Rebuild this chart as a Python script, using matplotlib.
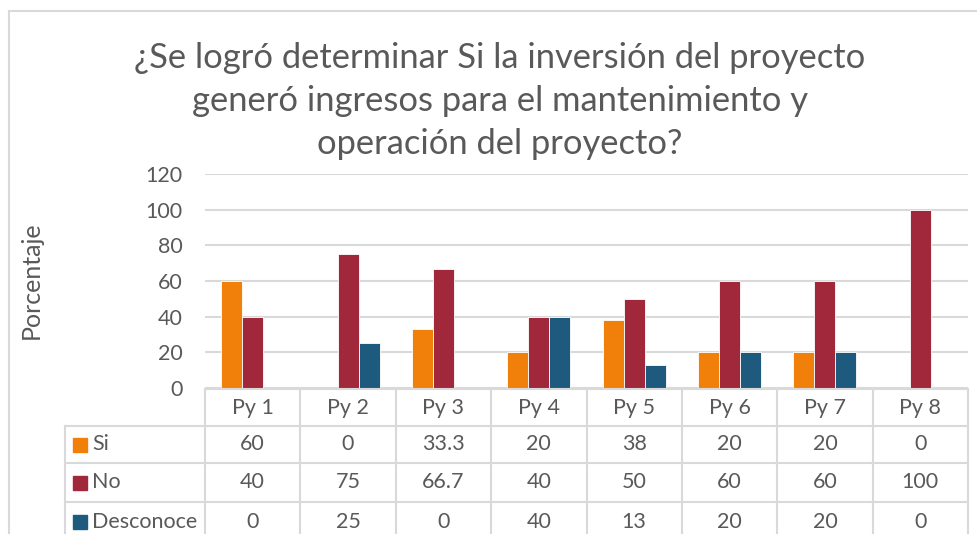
import matplotlib.pyplot as plt
from matplotlib.patches import Rectangle
import numpy as np

plt.rcParams['font.family'] = ['Lato', 'DejaVu Sans']

proyectos = ["Py 1", "Py 2", "Py 3", "Py 4", "Py 5", "Py 6", "Py 7", "Py 8"]
si = [60, 0, 33.3, 20, 38, 20, 20, 0]
no = [40, 75, 66.7, 40, 50, 60, 60, 100]
desconoce = [0, 25, 0, 40, 13, 20, 20, 0]
series = ["Si", "No", "Desconoce"]
colores = ["#F0800A", "#A0283A", "#1E5A7E"]

gris = "#595959"
linea = "#D9D9D9"
fs = 15.5

W, H = 977, 534
fig = plt.figure(figsize=(W / 100, H / 100), dpi=100)

# chart frame (cut on the right and bottom)
fig.add_artist(plt.Line2D([9 / W, 9 / W], [0, 1 - 11 / H], color=linea, lw=1.5))
fig.add_artist(plt.Line2D([9 / W, 1], [1 - 11 / H, 1 - 11 / H], color=linea, lw=1.5))

x0, x1 = 205, 968
y0, y1 = 388, 174
ax = fig.add_axes([x0 / W, 1 - y0 / H, (x1 - x0) / W, (y0 - y1) / H])

x = np.arange(len(proyectos))
bw = 0.22
for k, (vals, c) in enumerate(zip([si, no, desconoce], colores)):
    ax.bar(x + (k - 1) * bw, vals, bw, color=c, edgecolor="white", linewidth=0.6, zorder=3)

ax.set_xlim(-0.5, len(proyectos) - 0.5)
ax.set_ylim(0, 120)
ax.set_yticks(range(0, 121, 20))
ax.set_xticks([])
ax.grid(axis="y", color=linea, lw=1.5, zorder=0)
for s in ax.spines.values():
    s.set_visible(False)
ax.tick_params(axis="y", length=0, labelsize=fs, labelcolor=gris, pad=16)

fig.text(31 / W, 1 - 280 / H, "Porcentaje", rotation=90, ha="center", va="center",
         fontsize=18, color=gris)

fig.text(500 / W, 1 - 101 / H,
         "¿Se logró determinar Si la inversión del proyecto\ngeneró ingresos para el mantenimiento y\noperación del proyecto?",
         ha="center", va="center", fontsize=24.8, color=gris, linespacing=1.42)

# data table
t0 = 65
ty = 389
tab = fig.add_axes([t0 / W, 0, (x1 - t0) / W, (H - ty) / H])
colw = (x1 - x0) / len(proyectos)
left = -0.5 - (x0 - t0) / colw
tab.set_xlim(left, len(proyectos) - 0.5)
tab.set_ylim(H - ty, 0)
tab.axis("off")

rows = [0, 37, 74, 113, 152]
lk = dict(color=linea, lw=1.5, clip_on=False)
tab.plot([-0.5, len(proyectos) - 0.5], [rows[0], rows[0]], **lk)
for r in rows[1:4]:
    tab.plot([left, len(proyectos) - 0.5], [r, r], **lk)
for i in range(len(proyectos) + 1):
    tab.plot([i - 0.5, i - 0.5], [0, H - ty], **lk)
tab.plot([left, left], [rows[1], H - ty], **lk)

for i, p in enumerate(proyectos):
    tab.text(i, (rows[0] + rows[1]) / 2, p, ha="center", va="center", fontsize=fs, color=gris)

sq = 14 / colw
for j, (nombre, vals, c) in enumerate(zip(series, [si, no, desconoce], colores)):
    yc = (rows[j + 1] + rows[j + 2]) / 2
    tab.add_patch(Rectangle((left + 8 / colw, yc - 7), sq, 14, color=c, clip_on=False))
    tab.text(left + 27 / colw, yc, nombre, ha="left", va="center", fontsize=fs, color=gris)
    for i, v in enumerate(vals):
        tab.text(i, yc, f"{v:g}", ha="center", va="center", fontsize=fs, color=gris)

fig.savefig("out.png", dpi=100)
